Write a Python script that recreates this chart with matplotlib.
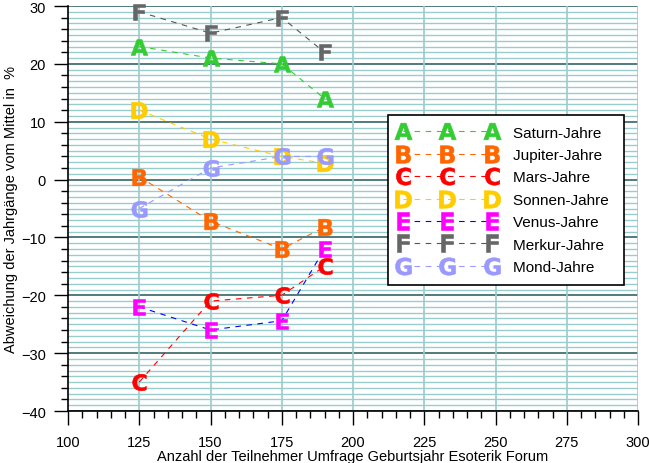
import matplotlib
matplotlib.use('Agg')
import matplotlib.pyplot as plt
from matplotlib.ticker import MultipleLocator
import numpy as np

plt.rcParams['font.family'] = ['Liberation Sans', 'DejaVu Sans']

# Teilnehmerzahlen
teilnehmer = [125, 150, 175, 190]

saturn = [23, 21, 20, 14]
jupiter = [0.5, -7.2, -12, -8.2]
mars = [-35, -21, -20, -15]
sonnen = [12, 7, 4, 2.8]
venus = [-22, -26, -24.4, -12]
merkur = [29, 25.3, 28, 22]
mond = [-5, 2, 4, 4]

series = [
    ('A', saturn, 'Saturn-Jahre', '#33CC33', '#33CC33'),
    ('B', jupiter, 'Jupiter-Jahre', '#FF6600', '#FF6600'),
    ('C', mars, 'Mars-Jahre', '#FF0000', '#FF0000'),
    ('D', sonnen, 'Sonnen-Jahre', '#FFCC00', '#FFCC00'),
    ('E', venus, 'Venus-Jahre', '#FF00FF', '#0000FF'),
    ('F', merkur, 'Merkur-Jahre', '#666666', '#555555'),
    ('G', mond, 'Mond-Jahre', '#9999FF', '#9999FF'),
]

fig = plt.figure(figsize=(6.49, 4.64), dpi=100)
ax = fig.add_axes([68 / 649, 52 / 464, 570 / 649, 405 / 464])

ax.set_xlim(100, 300)
ax.set_ylim(-40, 30)

# Gitter
for y in np.arange(-40, 31, 1):
    if y % 10 == 0:
        continue
    ax.axhline(y, color='#99CCCC', lw=1.0, zorder=0)
for y in np.arange(-40, 31, 10):
    ax.axhline(y, color='#336666', lw=1.2, zorder=0.5)
for x in np.arange(125, 301, 25):
    ax.axvline(x, color='#99CCCC', lw=1.2, zorder=0.6)

for letter, vals, label, mcol, lcol in series:
    ax.plot(teilnehmer, vals, color=lcol, lw=0.8, dashes=(5, 5),
            marker='$\\mathbf{' + letter + '}$', markersize=12,
            markerfacecolor=mcol, markeredgecolor=mcol, markeredgewidth=0.4,
            label=label + '\u00a0', zorder=3, clip_on=False)

ax.xaxis.set_major_locator(MultipleLocator(25))
ax.xaxis.set_minor_locator(MultipleLocator(5))
ax.yaxis.set_major_locator(MultipleLocator(10))
ax.yaxis.set_minor_locator(MultipleLocator(2))
ax.tick_params(which='major', direction='out', length=10, width=1, labelsize=10.5, color='black')
ax.tick_params(which='minor', direction='out', length=5, width=1, color='black')
ax.tick_params(axis='x', which='major', pad=7)
ax.tick_params(axis='y', which='major', pad=6)

for s in ['top', 'right']:
    ax.spines[s].set_visible(False)
ax.spines['left'].set_linewidth(1.2)
ax.spines['bottom'].set_linewidth(1.2)

ax.set_xlabel('Anzahl der Teilnehmer Umfrage Geburtsjahr Esoterik Forum', fontsize=10.5, labelpad=0)
ax.set_ylabel('Abweichung der Jahrgänge vom Mittel in  %', fontsize=10.5, labelpad=2)

leg = ax.legend(loc='upper left', bbox_to_anchor=(0.561, 0.731), numpoints=3,
                fancybox=False, framealpha=1, edgecolor='black', fontsize=11,
                handlelength=6.4, handletextpad=1.1, labelspacing=0.55,
                borderpad=0.7, borderaxespad=0, markerscale=1.05)
leg.get_frame().set_linewidth(1.2)
leg.set_zorder(5)

fig.savefig('out.png', dpi=100)
